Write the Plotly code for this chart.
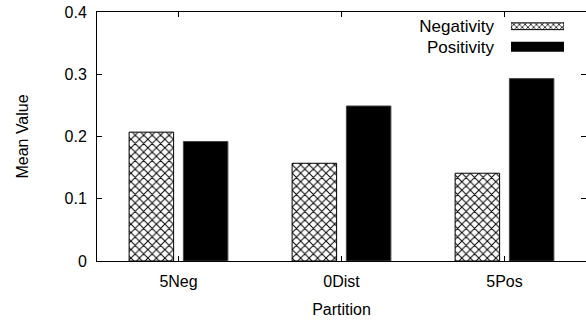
import plotly.graph_objects as go

categories = ["5Neg", "0Dist", "5Pos"]
series_names = ["Negativity", "Positivity"]
negativity = [0.207, 0.157, 0.141]
positivity = [0.192, 0.249, 0.293]
y_ticks = [0, 0.1, 0.2, 0.3, 0.4]
y_tick_labels = ["0", "0.1", "0.2", "0.3", "0.4"]

FONT = "Liberation Sans, Arial, Helvetica, sans-serif"
FS = 16
hatch = dict(shape="x", size=6, solidity=0.3, fgcolor="black", bgcolor="white", fillmode="replace")

fig = go.Figure()
fig.add_trace(go.Bar(
    x=categories, y=negativity, name=series_names[0],
    width=0.273, offset=-0.303,
    marker=dict(color="white", pattern=hatch, line=dict(color="black", width=1)),
    showlegend=False,
))
fig.add_trace(go.Bar(
    x=categories, y=positivity, name=series_names[1],
    width=0.273, offset=0.03,
    marker=dict(color="black", line=dict(color="#444", width=1)),
    showlegend=False,
))

# legend drawn as a small key panel (text left of sample, gnuplot style)
fig.add_trace(go.Bar(
    x=[1], y=[series_names[0]], orientation="h", xaxis="x2", yaxis="y2",
    width=0.33,
    marker=dict(color="white", pattern=dict(shape="x", size=4, solidity=0.35, fgcolor="black", bgcolor="white", fillmode="replace"),
                line=dict(color="black", width=1)),
    showlegend=False, hoverinfo="skip",
))
fig.add_trace(go.Bar(
    x=[1], y=[series_names[1]], orientation="h", xaxis="x2", yaxis="y2",
    width=0.49,
    marker=dict(color="black", line=dict(color="black", width=0)),
    showlegend=False, hoverinfo="skip",
))

axis_common = dict(
    showline=True, linecolor="black", linewidth=1, mirror="ticks",
    ticks="inside", ticklen=5, tickcolor="black", tickwidth=1,
    showgrid=False, zeroline=False, automargin=False,
    ticklabeloverflow="allow",
    tickfont=dict(family=FONT, size=FS, color="black"),
)

fig.update_layout(
    width=586, height=322,
    margin=dict(l=97, r=0, t=12, b=61),
    paper_bgcolor="white", plot_bgcolor="white",
    barmode="overlay",
    font=dict(family=FONT, size=FS, color="black"),
    xaxis=dict(
        **axis_common,
        range=[-0.5, 2.5],
        ticklabelstandoff=6,
        title=dict(text="Partition", standoff=14, font=dict(family=FONT, size=FS, color="black")),
    ),
    yaxis=dict(
        **axis_common,
        range=[0, 0.4],
        tickvals=y_ticks, ticktext=y_tick_labels,
        ticklabelstandoff=6,
        title=dict(text="Mean Value", standoff=31, font=dict(family=FONT, size=FS, color="black")),
    ),
    xaxis2=dict(
        domain=[0.8466, 0.955], anchor="y2", range=[0, 1],
        showticklabels=False, showgrid=False, zeroline=False, showline=False, ticks="",
    ),
    yaxis2=dict(
        domain=[0.819, 0.984], anchor="x2", autorange="reversed",
        showgrid=False, zeroline=False, showline=False, ticks="",
        ticklabelstandoff=16,
        tickfont=dict(family=FONT, size=17, color="black"),
    ),
)

fig.write_html(
    "out.html",
    config={"displayModeBar": False},
    post_script="document.documentElement.style.margin='0';document.body.style.margin='0';"
                "document.documentElement.style.overflow='hidden';document.body.style.overflow='hidden';",
)
